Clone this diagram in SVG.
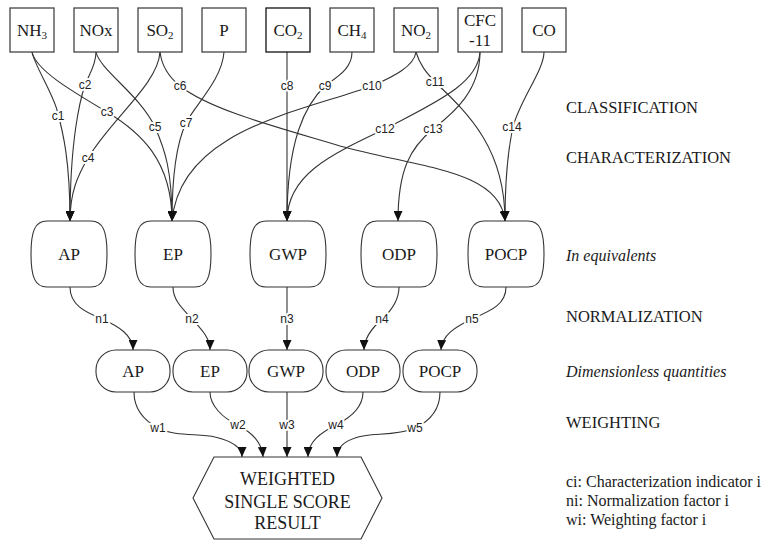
<svg xmlns="http://www.w3.org/2000/svg" width="771" height="543" viewBox="0 0 771 543">
<style>
  .box{fill:#fff;stroke:#444;stroke-width:1.3}
  .node{fill:#fff;stroke:#333;stroke-width:1.1}
  .t{font-family:"Liberation Serif","Times New Roman",serif;font-size:17px;fill:#1a1a1a;text-anchor:middle}
  .sub{font-size:11px}
  .side{font-family:"Liberation Serif","Times New Roman",serif;font-size:16.5px;fill:#1a1a1a}
  .it{font-style:italic;font-size:16px}
  .leg{font-size:16px}
  .e{fill:none;stroke:#333;stroke-width:1.1;marker-end:url(#arr)}
  .lbl{font-family:"Liberation Sans",Arial,sans-serif;font-size:12px;fill:#222;text-anchor:middle;stroke:#fff;stroke-width:4;paint-order:stroke;stroke-linejoin:round}
</style>
<defs>
  <marker id="arr" markerUnits="userSpaceOnUse" markerWidth="10" markerHeight="9" refX="10" refY="4.5" orient="auto">
    <path d="M0,0 L10,4.5 L0,9 Z" fill="#111"/>
  </marker>
</defs>
<rect width="771" height="543" fill="#fff"/>

<g id="connectors">
  <path class="e" d="M32,52 C34,64 52,92 57,110 C63,132 70,160 70,221"/>
  <path class="e" d="M96,52 C96,66 88,76 85,85 C80,100 70,140 70,221"/>
  <path class="e" d="M32,52 C36,70 70,90 107,112 C140,132 172,160 172,221"/>
  <path class="e" d="M160,52 C158,84 112,118 88,158 C78,175 70,192 70,221"/>
  <path class="e" d="M96,52 C100,70 140,95 155,127 C165,150 172,170 172,221"/>
  <path class="e" d="M160,52 C162,68 170,78 180,86 C210,110 280,128 340,146 C420,168 500,170 505,221"/>
  <path class="e" d="M224,52 C222,80 195,105 186,123 C178,140 172,170 172,221"/>
  <path class="e" d="M287,52 V221"/>
  <path class="e" d="M352,52 C352,70 335,78 325,86 C305,105 287,140 287,221"/>
  <path class="e" d="M416,52 C414,66 395,76 372,86 C300,112 180,130 172,221"/>
  <path class="e" d="M416,52 C420,66 428,74 435,82 C470,115 505,150 505,221"/>
  <path class="e" d="M480,52 C478,85 430,105 385,129 C330,155 287,175 287,221"/>
  <path class="e" d="M480,52 C480,90 455,112 433,129 C410,148 398,170 398,221"/>
  <path class="e" d="M544,52 C544,70 520,100 513,127 C508,150 505,180 505,221"/>

  <path class="e" d="M70,287 C70,305 85,312 102,319 C118,326 133,335 133,350"/>
  <path class="e" d="M173,287 C173,300 182,308 192,319 C202,330 210,338 210,350"/>
  <path class="e" d="M287,287 V350"/>
  <path class="e" d="M399,287 C399,300 392,310 382,319 C372,328 364,338 364,350"/>
  <path class="e" d="M506,287 C506,305 490,311 472,319 C455,327 442,335 441,350"/>

  <path class="e" d="M134,392 C134,410 145,421 158,428 C175,437 200,433 215,437 C232,441 242,447 242,457"/>
  <path class="e" d="M210,392 C210,405 222,418 238,425 C252,433 262,442 263,457"/>
  <path class="e" d="M287,392 V457"/>
  <path class="e" d="M363,392 C363,408 350,418 336,425 C320,433 308,442 308,457"/>
  <path class="e" d="M440,392 C440,408 432,420 415,428 C395,437 370,432 355,438 C343,442 337,448 337,457"/>

  <text class="lbl" x="58" y="120">c1</text>
  <text class="lbl" x="85" y="89">c2</text>
  <text class="lbl" x="107" y="116">c3</text>
  <text class="lbl" x="88" y="162">c4</text>
  <text class="lbl" x="155" y="131">c5</text>
  <text class="lbl" x="180" y="90">c6</text>
  <text class="lbl" x="186" y="127">c7</text>
  <text class="lbl" x="287" y="90">c8</text>
  <text class="lbl" x="325" y="90">c9</text>
  <text class="lbl" x="372" y="90">c10</text>
  <text class="lbl" x="435" y="86">c11</text>
  <text class="lbl" x="385" y="133">c12</text>
  <text class="lbl" x="433" y="133">c13</text>
  <text class="lbl" x="512" y="131">c14</text>
  <text class="lbl" x="102" y="323">n1</text>
  <text class="lbl" x="192" y="323">n2</text>
  <text class="lbl" x="287" y="323">n3</text>
  <text class="lbl" x="382" y="323">n4</text>
  <text class="lbl" x="472" y="323">n5</text>
  <text class="lbl" x="158" y="432">w1</text>
  <text class="lbl" x="238" y="429">w2</text>
  <text class="lbl" x="287" y="429">w3</text>
  <text class="lbl" x="336" y="429">w4</text>
  <text class="lbl" x="415" y="432">w5</text>
</g>

<g id="src-NH3"><rect class="box" x="10" y="8" width="44" height="44"/><text class="t" x="32" y="36">NH<tspan class="sub" dy="3">3</tspan></text></g>
<g id="src-NOx"><rect class="box" x="74" y="8" width="44" height="44"/><text class="t" x="96" y="36">NOx</text></g>
<g id="src-SO2"><rect class="box" x="138" y="8" width="44" height="44"/><text class="t" x="160" y="36">SO<tspan class="sub" dy="3">2</tspan></text></g>
<g id="src-P"><rect class="box" x="202" y="8" width="44" height="44"/><text class="t" x="224" y="36">P</text></g>
<g id="src-CO2"><rect class="box" x="266" y="8" width="44" height="44" style="stroke:#111"/><text class="t" x="288" y="36">CO<tspan class="sub" dy="3">2</tspan></text></g>
<g id="src-CH4"><rect class="box" x="330" y="8" width="44" height="44"/><text class="t" x="352" y="36">CH<tspan class="sub" dy="3">4</tspan></text></g>
<g id="src-NO2"><rect class="box" x="394" y="8" width="44" height="44"/><text class="t" x="416" y="36">NO<tspan class="sub" dy="3">2</tspan></text></g>
<g id="src-CFC11"><rect class="box" x="458" y="8" width="44" height="44"/><text class="t" x="480" y="26">CFC</text><text class="t" x="480" y="46">-11</text></g>
<g id="src-CO"><rect class="box" x="522" y="8" width="44" height="44"/><text class="t" x="544" y="36">CO</text></g>

<g id="eq-AP"><path class="node" d="M47,221 H91 C103,221 107,231 107,254 C107,277 103,287 91,287 H47 C35,287 31,277 31,254 C31,231 35,221 47,221 Z"/><text class="t" x="69" y="260">AP</text></g>
<g id="eq-EP"><path class="node" d="M151,221 H195 C207,221 211,231 211,254 C211,277 207,287 195,287 H151 C139,287 135,277 135,254 C135,231 139,221 151,221 Z"/><text class="t" x="173" y="260">EP</text></g>
<g id="eq-GWP"><path class="node" d="M266,221 H310 C322,221 326,231 326,254 C326,277 322,287 310,287 H266 C254,287 250,277 250,254 C250,231 254,221 266,221 Z"/><text class="t" x="288" y="260">GWP</text></g>
<g id="eq-ODP"><path class="node" d="M377,221 H421 C433,221 437,231 437,254 C437,277 433,287 421,287 H377 C365,287 361,277 361,254 C361,231 365,221 377,221 Z"/><text class="t" x="399" y="260">ODP</text></g>
<g id="eq-POCP"><path class="node" d="M484,221 H528 C540,221 544,231 544,254 C544,277 540,287 528,287 H484 C472,287 468,277 468,254 C468,231 472,221 484,221 Z"/><text class="t" x="506" y="260">POCP</text></g>

<g id="dl-AP"><rect class="node" x="96" y="350" width="74" height="42" rx="20" ry="20"/><text class="t" x="133" y="377">AP</text></g>
<g id="dl-EP"><rect class="node" x="173" y="350" width="74" height="42" rx="20" ry="20"/><text class="t" x="210" y="377">EP</text></g>
<g id="dl-GWP"><rect class="node" x="249" y="350" width="74" height="42" rx="20" ry="20"/><text class="t" x="286" y="377">GWP</text></g>
<g id="dl-ODP"><rect class="node" x="326" y="350" width="74" height="42" rx="20" ry="20"/><text class="t" x="363" y="377">ODP</text></g>
<g id="dl-POCP"><rect class="node" x="403" y="350" width="74" height="42" rx="20" ry="20"/><text class="t" x="440" y="377">POCP</text></g>

<g id="result"><polygon class="node" points="214,457 361,457 382,498 361,539 214,539 193,498"/>
  <text class="t" x="287.5" y="485" style="font-size:18px">WEIGHTED</text>
  <text class="t" x="287.5" y="508" style="font-size:18px">SINGLE SCORE</text>
  <text class="t" x="287.5" y="529" style="font-size:18px">RESULT</text>
</g>

<g id="stages">
  <text class="side" x="566" y="113">CLASSIFICATION</text>
  <text class="side" x="566" y="163">CHARACTERIZATION</text>
  <text class="side it" x="566" y="261">In equivalents</text>
  <text class="side" x="566" y="322">NORMALIZATION</text>
  <text class="side it" x="566" y="377">Dimensionless quantities</text>
  <text class="side" x="566" y="428">WEIGHTING</text>
  <text class="side leg" x="566" y="487">ci: Characterization indicator i</text>
  <text class="side leg" x="566" y="506">ni: Normalization factor i</text>
  <text class="side leg" x="566" y="525">wi: Weighting factor i</text>
</g>
</svg>
